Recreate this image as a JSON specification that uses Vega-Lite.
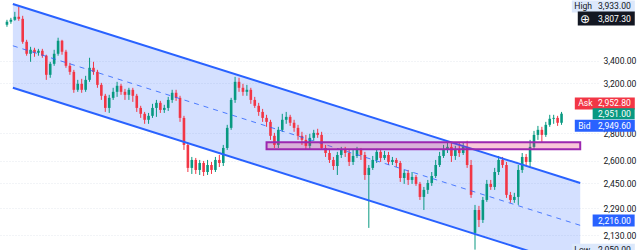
{
  "$schema": "https://vega.github.io/schema/vega-lite/v6.json",
  "width": 598,
  "height": 250,
  "autosize": {"type": "none"},
  "padding": {"left": 0, "top": 0, "right": 42, "bottom": 0},
  "background": "white",
  "config": {"view": {"stroke": null}, "text": {"font": "Roboto"}},
  "datasets": {
    "candles": [
      {"i":0,"o":3745,"h":3795,"l":3725,"c":3775},{"i":1,"o":3775,"h":3815,"l":3755,"c":3795},{"i":2,"o":3795,"h":3877,"l":3785,"c":3826},{"i":3,"o":3826,"h":3933,"l":3785,"c":3805},{"i":4,"o":3805,"h":3836,"l":3559,"c":3578},{"i":5,"o":3578,"h":3597,"l":3447,"c":3465},{"i":6,"o":3465,"h":3530,"l":3391,"c":3502},{"i":7,"o":3502,"h":3521,"l":3437,"c":3474},{"i":8,"o":3474,"h":3511,"l":3447,"c":3493},{"i":9,"o":3493,"h":3511,"l":3428,"c":3447},
      {"i":10,"o":3447,"h":3456,"l":3231,"c":3275},{"i":11,"o":3275,"h":3391,"l":3249,"c":3373},{"i":12,"o":3373,"h":3502,"l":3355,"c":3465},{"i":13,"o":3465,"h":3617,"l":3447,"c":3588},{"i":14,"o":3588,"h":3597,"l":3456,"c":3484},{"i":15,"o":3484,"h":3502,"l":3337,"c":3355},{"i":16,"o":3355,"h":3382,"l":3275,"c":3301},{"i":17,"o":3301,"h":3319,"l":3121,"c":3146},{"i":18,"o":3146,"h":3231,"l":3129,"c":3197},{"i":19,"o":3197,"h":3240,"l":3121,"c":3146},
      {"i":20,"o":3146,"h":3266,"l":3129,"c":3231},{"i":21,"o":3231,"h":3428,"l":3214,"c":3337},{"i":22,"o":3337,"h":3391,"l":3275,"c":3301},{"i":23,"o":3301,"h":3319,"l":3163,"c":3188},{"i":24,"o":3188,"h":3205,"l":3062,"c":3096},{"i":25,"o":3096,"h":3112,"l":2965,"c":2997},{"i":26,"o":2997,"h":3104,"l":2957,"c":3079},{"i":27,"o":3079,"h":3163,"l":3062,"c":3129},{"i":28,"o":3129,"h":3214,"l":3087,"c":3180},{"i":29,"o":3180,"h":3197,"l":3104,"c":3129},
      {"i":30,"o":3129,"h":3154,"l":3062,"c":3104},{"i":31,"o":3104,"h":3163,"l":3062,"c":3146},{"i":32,"o":3146,"h":3163,"l":3046,"c":3096},{"i":33,"o":3096,"h":3112,"l":2965,"c":2997},{"i":34,"o":2997,"h":3014,"l":2918,"c":2950},{"i":35,"o":2950,"h":2965,"l":2872,"c":2903},{"i":36,"o":2903,"h":2957,"l":2872,"c":2934},{"i":37,"o":2934,"h":3030,"l":2918,"c":2997},{"i":38,"o":2997,"h":3062,"l":2926,"c":3038},{"i":39,"o":3038,"h":3054,"l":2957,"c":2981},
      {"i":40,"o":2981,"h":3022,"l":2957,"c":2997},{"i":41,"o":2997,"h":3087,"l":2973,"c":3062},{"i":42,"o":3062,"h":3146,"l":3038,"c":3121},{"i":43,"o":3121,"h":3146,"l":3054,"c":3079},{"i":44,"o":3079,"h":3096,"l":2887,"c":2918},{"i":45,"o":2918,"h":2934,"l":2678,"c":2714},{"i":46,"o":2714,"h":2729,"l":2524,"c":2552},{"i":47,"o":2552,"h":2628,"l":2511,"c":2607},{"i":48,"o":2607,"h":2621,"l":2511,"c":2538},{"i":49,"o":2538,"h":2607,"l":2504,"c":2586},
      {"i":50,"o":2586,"h":2600,"l":2497,"c":2524},{"i":51,"o":2524,"h":2607,"l":2504,"c":2572},{"i":52,"o":2572,"h":2593,"l":2511,"c":2538},{"i":53,"o":2538,"h":2628,"l":2524,"c":2607},{"i":54,"o":2607,"h":2642,"l":2558,"c":2586},{"i":55,"o":2586,"h":2714,"l":2565,"c":2692},{"i":56,"o":2692,"h":2864,"l":2678,"c":2841},{"i":57,"o":2841,"h":3079,"l":2826,"c":3062},{"i":58,"o":3062,"h":3257,"l":3038,"c":3214},{"i":59,"o":3214,"h":3249,"l":3129,"c":3163},
      {"i":60,"o":3163,"h":3197,"l":3096,"c":3129},{"i":61,"o":3129,"h":3188,"l":3096,"c":3146},{"i":62,"o":3146,"h":3163,"l":3030,"c":3062},{"i":63,"o":3062,"h":3087,"l":2997,"c":3014},{"i":64,"o":3014,"h":3038,"l":2934,"c":2965},{"i":65,"o":2965,"h":2989,"l":2887,"c":2918},{"i":66,"o":2918,"h":2942,"l":2849,"c":2887},{"i":67,"o":2887,"h":2903,"l":2751,"c":2781},{"i":68,"o":2781,"h":2803,"l":2692,"c":2714},{"i":69,"o":2714,"h":2849,"l":2692,"c":2826},
      {"i":70,"o":2826,"h":2950,"l":2811,"c":2903},{"i":71,"o":2903,"h":2965,"l":2872,"c":2926},{"i":72,"o":2926,"h":2942,"l":2856,"c":2880},{"i":73,"o":2880,"h":2903,"l":2811,"c":2841},{"i":74,"o":2841,"h":2864,"l":2751,"c":2781},{"i":75,"o":2781,"h":2811,"l":2714,"c":2751},{"i":76,"o":2751,"h":2788,"l":2678,"c":2707},{"i":77,"o":2707,"h":2796,"l":2678,"c":2766},{"i":78,"o":2766,"h":2826,"l":2744,"c":2803},{"i":79,"o":2803,"h":2834,"l":2766,"c":2788},
      {"i":80,"o":2788,"h":2811,"l":2678,"c":2692},{"i":81,"o":2692,"h":2714,"l":2628,"c":2656},{"i":82,"o":2656,"h":2678,"l":2586,"c":2607},{"i":83,"o":2607,"h":2628,"l":2538,"c":2565},{"i":84,"o":2565,"h":2664,"l":2504,"c":2642},{"i":85,"o":2642,"h":2700,"l":2621,"c":2678},{"i":86,"o":2678,"h":2700,"l":2628,"c":2656},{"i":87,"o":2656,"h":2678,"l":2565,"c":2593},{"i":88,"o":2593,"h":2678,"l":2572,"c":2635},{"i":89,"o":2635,"h":2700,"l":2621,"c":2678},
      {"i":90,"o":2678,"h":2692,"l":2607,"c":2642},{"i":91,"o":2642,"h":2664,"l":2471,"c":2504},{"i":92,"o":2504,"h":2572,"l":2173,"c":2552},{"i":93,"o":2552,"h":2635,"l":2538,"c":2607},{"i":94,"o":2607,"h":2685,"l":2586,"c":2664},{"i":95,"o":2664,"h":2685,"l":2593,"c":2621},{"i":96,"o":2621,"h":2671,"l":2607,"c":2642},{"i":97,"o":2642,"h":2664,"l":2572,"c":2593},{"i":98,"o":2593,"h":2628,"l":2572,"c":2607},{"i":99,"o":2607,"h":2621,"l":2558,"c":2586},
      {"i":100,"o":2586,"h":2600,"l":2458,"c":2484},{"i":101,"o":2484,"h":2538,"l":2445,"c":2518},{"i":102,"o":2518,"h":2538,"l":2438,"c":2471},{"i":103,"o":2471,"h":2524,"l":2445,"c":2491},{"i":104,"o":2491,"h":2504,"l":2432,"c":2445},{"i":105,"o":2445,"h":2458,"l":2342,"c":2361},{"i":106,"o":2361,"h":2425,"l":2280,"c":2406},{"i":107,"o":2406,"h":2471,"l":2380,"c":2451},{"i":108,"o":2451,"h":2524,"l":2432,"c":2497},{"i":109,"o":2497,"h":2607,"l":2484,"c":2572},
      {"i":110,"o":2572,"h":2664,"l":2558,"c":2635},{"i":111,"o":2635,"h":2714,"l":2621,"c":2678},{"i":112,"o":2678,"h":2736,"l":2656,"c":2700},{"i":113,"o":2700,"h":2729,"l":2593,"c":2635},{"i":114,"o":2635,"h":2707,"l":2607,"c":2678},{"i":115,"o":2678,"h":2729,"l":2628,"c":2656},{"i":116,"o":2656,"h":2729,"l":2642,"c":2700},{"i":117,"o":2700,"h":2744,"l":2552,"c":2572},{"i":118,"o":2572,"h":2607,"l":2355,"c":2374},{"i":119,"o":2144,"h":2311,"l":2050,"c":2280},
      {"i":120,"o":2280,"h":2305,"l":2178,"c":2220},{"i":121,"o":2220,"h":2361,"l":2202,"c":2342},{"i":122,"o":2342,"h":2471,"l":2330,"c":2445},{"i":123,"o":2445,"h":2471,"l":2406,"c":2425},{"i":124,"o":2425,"h":2552,"l":2406,"c":2524},{"i":125,"o":2524,"h":2635,"l":2504,"c":2607},{"i":126,"o":2607,"h":2628,"l":2552,"c":2572},{"i":127,"o":2572,"h":2593,"l":2355,"c":2374},{"i":128,"o":2374,"h":2393,"l":2324,"c":2342},{"i":129,"o":2342,"h":2387,"l":2324,"c":2361},
      {"i":130,"o":2361,"h":2572,"l":2311,"c":2538},{"i":131,"o":2538,"h":2656,"l":2518,"c":2628},{"i":132,"o":2628,"h":2649,"l":2565,"c":2593},{"i":133,"o":2593,"h":2751,"l":2552,"c":2700},{"i":134,"o":2700,"h":2818,"l":2678,"c":2788},{"i":135,"o":2788,"h":2856,"l":2751,"c":2826},{"i":136,"o":2826,"h":2849,"l":2729,"c":2788},{"i":137,"o":2788,"h":2887,"l":2773,"c":2864},{"i":138,"o":2864,"h":2942,"l":2849,"c":2911},{"i":139,"o":2911,"h":2942,"l":2872,"c":2918},
      {"i":140,"o":2918,"h":2934,"l":2856,"c":2880},{"i":141,"o":2880,"h":2965,"l":2864,"c":2951}
    ],
    "channel": [
      {"i":1.5,"up":3960,"mid":3540,"lo":3163},
      {"i":145.75,"up":2451,"mid":2188,"lo":1955}
    ],
    "zone": [{"i1":66,"i2":145.75,"top":2733,"bot":2683}],
    "tags": [
      {"k":"high","n":"High","p":3933,"t":"3,933.00"},
      {"k":"cross","n":"","p":3807.3,"t":"3,807.30"},
      {"k":"ask","n":"Ask","p":2952.8,"t":"2,952.80"},
      {"k":"last","n":"","p":2951,"t":"2,951.00"},
      {"k":"bid","n":"Bid","p":2949.6,"t":"2,949.60"},
      {"k":"line","n":"","p":2216,"t":"2,216.00"},
      {"k":"low","n":"Low","p":2050,"t":"2,050.00"}
    ]
  },
  "layer": [
    {
      "data": {"name": "channel"},
      "mark": {"type": "area", "color": "#2962ff", "opacity": 0.2, "clip": true},
      "encoding": {
        "x": {"field": "i", "type": "quantitative", "scale": {"domain": [-0.5, 149], "nice": false, "zero": false}, "axis": null},
        "y": {"field": "up", "type": "quantitative", "scale": {"type": "log", "domain": [2048, 4002], "nice": false}},
        "y2": {"field": "lo"}
      }
    },
    {
      "mark": {"type": "rule", "color": "#089981", "strokeDash": [1, 2], "opacity": 0.6, "strokeWidth": 1},
      "encoding": {"y": {"datum": 2951, "type": "quantitative", "scale": {"type": "log", "domain": [2048, 4002], "nice": false}}}
    },
    {
      "mark": {"type": "rule", "color": "#9598a1", "strokeDash": [3, 3], "strokeWidth": 1},
      "encoding": {"y": {"datum": 3807.3, "type": "quantitative", "scale": {"type": "log", "domain": [2048, 4002], "nice": false}}}
    },
    {
      "mark": {"type": "rule", "color": "#9598a1", "strokeDash": [2, 3], "strokeWidth": 1, "opacity": 0.7},
      "encoding": {"x": {"datum": 127.75, "type": "quantitative", "scale": {"domain": [-0.5, 149], "nice": false, "zero": false}, "axis": null}}
    },
    {
      "data": {"name": "candles"},
      "mark": {"type": "rule", "strokeWidth": 1},
      "encoding": {
        "x": {"field": "i", "type": "quantitative", "scale": {"domain": [-0.5, 149], "nice": false, "zero": false}, "axis": null},
        "y": {"field": "l", "type": "quantitative", "scale": {"type": "log", "domain": [2048, 4002], "nice": false},
          "axis": {"orient": "right", "values": [2130, 2290, 2450, 2600, 2800, 3200, 3400], "format": ",.2f", "title": null, "ticks": false, "tickSize": 0, "domain": false, "labelPadding": 5, "labelFontSize": 8.6, "labelFont": "Roboto", "labelColor": "#131722", "labelOverlap": false, "labelFlush": false, "labelBound": false, "grid": true, "gridColor": "#e0e3eb", "gridDash": [1, 2], "gridOpacity": 0.8, "zindex": 0}},
        "y2": {"field": "h"},
        "color": {"condition": {"test": "datum.c >= datum.o", "value": "#089981"}, "value": "#f23645"}
      }
    },
    {
      "data": {"name": "candles"},
      "mark": {"type": "bar", "width": 2.6},
      "encoding": {
        "x": {"field": "i", "type": "quantitative", "scale": {"domain": [-0.5, 149], "nice": false, "zero": false}, "axis": null},
        "y": {"field": "o", "type": "quantitative", "scale": {"type": "log", "domain": [2048, 4002], "nice": false}},
        "y2": {"field": "c"},
        "color": {"condition": {"test": "datum.c >= datum.o", "value": "#089981"}, "value": "#f23645"}
      }
    },
    {
      "data": {"name": "channel"},
      "mark": {"type": "line", "color": "#2962ff", "strokeWidth": 2, "clip": true},
      "encoding": {
        "x": {"field": "i", "type": "quantitative", "scale": {"domain": [-0.5, 149], "nice": false, "zero": false}, "axis": null},
        "y": {"field": "up", "type": "quantitative", "scale": {"type": "log", "domain": [2048, 4002], "nice": false}}
      }
    },
    {
      "data": {"name": "channel"},
      "mark": {"type": "line", "color": "#2962ff", "strokeWidth": 1, "strokeDash": [5, 5], "opacity": 0.8, "clip": true},
      "encoding": {
        "x": {"field": "i", "type": "quantitative", "scale": {"domain": [-0.5, 149], "nice": false, "zero": false}, "axis": null},
        "y": {"field": "mid", "type": "quantitative", "scale": {"type": "log", "domain": [2048, 4002], "nice": false}}
      }
    },
    {
      "data": {"name": "channel"},
      "mark": {"type": "line", "color": "#2962ff", "strokeWidth": 2, "clip": true},
      "encoding": {
        "x": {"field": "i", "type": "quantitative", "scale": {"domain": [-0.5, 149], "nice": false, "zero": false}, "axis": null},
        "y": {"field": "lo", "type": "quantitative", "scale": {"type": "log", "domain": [2048, 4002], "nice": false}}
      }
    },
    {
      "data": {"name": "zone"},
      "mark": {"type": "rect", "fill": "#e91e63", "fillOpacity": 0.25, "stroke": "#9c27b0", "strokeWidth": 2},
      "encoding": {
        "x": {"field": "i1", "type": "quantitative", "scale": {"domain": [-0.5, 149], "nice": false, "zero": false}, "axis": null},
        "x2": {"field": "i2"},
        "y": {"field": "top", "type": "quantitative", "scale": {"type": "log", "domain": [2048, 4002], "nice": false}},
        "y2": {"field": "bot"}
      }
    },
    {
      "mark": {"type": "rule", "color": "#2962ff", "strokeWidth": 2},
      "encoding": {"y": {"datum": 2216, "type": "quantitative", "scale": {"type": "log", "domain": [2048, 4002], "nice": false}}}
    },
    {
      "data": {"name": "tags"},
      "transform": [{"filter": "datum.k == 'high' || datum.k == 'low'"}],
      "mark": {"type": "point", "shape": "M-31.5,-6H31.5V6H-31.5Z", "size": 4, "filled": true, "opacity": 1, "color": "#dce8fb", "strokeWidth": 0},
      "encoding": {
        "x": {"datum": 151.625, "type": "quantitative", "scale": {"domain": [-0.5, 149], "nice": false, "zero": false}, "axis": null},
        "y": {"field": "p", "type": "quantitative", "scale": {"type": "log", "domain": [2048, 4002], "nice": false}}
      }
    },
    {
      "data": {"name": "tags"},
      "transform": [{"filter": "datum.k == 'cross'"}],
      "mark": {"type": "point", "shape": "M-28.5,-7H28.5V7H-28.5Z", "size": 4, "filled": true, "opacity": 1, "color": "#131722", "strokeWidth": 0},
      "encoding": {
        "x": {"datum": 152.375, "type": "quantitative", "scale": {"domain": [-0.5, 149], "nice": false, "zero": false}, "axis": null},
        "y": {"field": "p", "type": "quantitative", "scale": {"type": "log", "domain": [2048, 4002], "nice": false}}
      }
    },
    {
      "data": {"name": "tags"},
      "transform": [{"filter": "datum.k == 'ask'"}],
      "mark": {"type": "point", "shape": "M-30,-6H30V6H-30Z", "size": 4, "filled": true, "opacity": 1, "color": "#f23645", "strokeWidth": 0, "yOffset": -10},
      "encoding": {
        "x": {"datum": 152, "type": "quantitative", "scale": {"domain": [-0.5, 149], "nice": false, "zero": false}, "axis": null},
        "y": {"field": "p", "type": "quantitative", "scale": {"type": "log", "domain": [2048, 4002], "nice": false}}
      }
    },
    {
      "data": {"name": "tags"},
      "transform": [{"filter": "datum.k == 'bid'"}],
      "mark": {"type": "point", "shape": "M-30,-6H30V6H-30Z", "size": 4, "filled": true, "opacity": 1, "color": "#2962ff", "strokeWidth": 0, "yOffset": 12},
      "encoding": {
        "x": {"datum": 152, "type": "quantitative", "scale": {"domain": [-0.5, 149], "nice": false, "zero": false}, "axis": null},
        "y": {"field": "p", "type": "quantitative", "scale": {"type": "log", "domain": [2048, 4002], "nice": false}}
      }
    },
    {
      "data": {"name": "tags"},
      "transform": [{"filter": "datum.k == 'last'"}],
      "mark": {"type": "point", "shape": "M-21,-5.5H21V5.5H-21Z", "size": 4, "filled": true, "opacity": 1, "color": "#089981", "strokeWidth": 0},
      "encoding": {
        "x": {"datum": 154.25, "type": "quantitative", "scale": {"domain": [-0.5, 149], "nice": false, "zero": false}, "axis": null},
        "y": {"field": "p", "type": "quantitative", "scale": {"type": "log", "domain": [2048, 4002], "nice": false}}
      }
    },
    {
      "data": {"name": "tags"},
      "transform": [{"filter": "datum.k == 'line'"}],
      "mark": {"type": "point", "shape": "M-21,-6H21V6H-21Z", "size": 4, "filled": true, "opacity": 1, "color": "#2962ff", "strokeWidth": 0},
      "encoding": {
        "x": {"datum": 154.25, "type": "quantitative", "scale": {"domain": [-0.5, 149], "nice": false, "zero": false}, "axis": null},
        "y": {"field": "p", "type": "quantitative", "scale": {"type": "log", "domain": [2048, 4002], "nice": false}}
      }
    },
    {
      "data": {"name": "tags"},
      "transform": [{"filter": "datum.k == 'high' || datum.k == 'low'"}],
      "mark": {"type": "text", "align": "left", "baseline": "middle", "fontSize": 8.6, "color": "#131722"},
      "encoding": {
        "x": {"datum": 150.25, "type": "quantitative", "scale": {"domain": [-0.5, 149], "nice": false, "zero": false}, "axis": null},
        "y": {"field": "p", "type": "quantitative", "scale": {"type": "log", "domain": [2048, 4002], "nice": false}},
        "text": {"field": "t"}
      }
    },
    {
      "data": {"name": "tags"},
      "transform": [{"filter": "datum.k == 'high' || datum.k == 'low'"}],
      "mark": {"type": "text", "align": "left", "baseline": "middle", "fontSize": 8.6, "color": "#131722"},
      "encoding": {
        "x": {"datum": 144.25, "type": "quantitative", "scale": {"domain": [-0.5, 149], "nice": false, "zero": false}, "axis": null},
        "y": {"field": "p", "type": "quantitative", "scale": {"type": "log", "domain": [2048, 4002], "nice": false}},
        "text": {"field": "n"}
      }
    },
    {
      "data": {"name": "tags"},
      "transform": [{"filter": "datum.k == 'cross' || datum.k == 'last' || datum.k == 'line'"}],
      "mark": {"type": "text", "align": "left", "baseline": "middle", "fontSize": 8.6, "color": "#ffffff"},
      "encoding": {
        "x": {"datum": 150.25, "type": "quantitative", "scale": {"domain": [-0.5, 149], "nice": false, "zero": false}, "axis": null},
        "y": {"field": "p", "type": "quantitative", "scale": {"type": "log", "domain": [2048, 4002], "nice": false}},
        "text": {"field": "t"}
      }
    },
    {
      "data": {"name": "tags"},
      "transform": [{"filter": "datum.k == 'cross'"}],
      "mark": {"type": "text", "align": "center", "baseline": "middle", "fontSize": 12, "color": "#ffffff", "font": "DejaVu Sans"},
      "encoding": {
        "x": {"datum": 147, "type": "quantitative", "scale": {"domain": [-0.5, 149], "nice": false, "zero": false}, "axis": null},
        "y": {"field": "p", "type": "quantitative", "scale": {"type": "log", "domain": [2048, 4002], "nice": false}},
        "text": {"value": "⊕"}
      }
    },
    {
      "data": {"name": "tags"},
      "transform": [{"filter": "datum.k == 'ask'"}],
      "mark": {"type": "text", "align": "left", "baseline": "middle", "fontSize": 8.6, "color": "#ffffff", "yOffset": -10},
      "encoding": {
        "x": {"datum": 150.25, "type": "quantitative", "scale": {"domain": [-0.5, 149], "nice": false, "zero": false}, "axis": null},
        "y": {"field": "p", "type": "quantitative", "scale": {"type": "log", "domain": [2048, 4002], "nice": false}},
        "text": {"field": "t"}
      }
    },
    {
      "data": {"name": "tags"},
      "transform": [{"filter": "datum.k == 'ask'"}],
      "mark": {"type": "text", "align": "left", "baseline": "middle", "fontSize": 8.6, "color": "#ffffff", "yOffset": -10},
      "encoding": {
        "x": {"datum": 145.25, "type": "quantitative", "scale": {"domain": [-0.5, 149], "nice": false, "zero": false}, "axis": null},
        "y": {"field": "p", "type": "quantitative", "scale": {"type": "log", "domain": [2048, 4002], "nice": false}},
        "text": {"field": "n"}
      }
    },
    {
      "data": {"name": "tags"},
      "transform": [{"filter": "datum.k == 'bid'"}],
      "mark": {"type": "text", "align": "left", "baseline": "middle", "fontSize": 8.6, "color": "#ffffff", "yOffset": 12},
      "encoding": {
        "x": {"datum": 150.25, "type": "quantitative", "scale": {"domain": [-0.5, 149], "nice": false, "zero": false}, "axis": null},
        "y": {"field": "p", "type": "quantitative", "scale": {"type": "log", "domain": [2048, 4002], "nice": false}},
        "text": {"field": "t"}
      }
    },
    {
      "data": {"name": "tags"},
      "transform": [{"filter": "datum.k == 'bid'"}],
      "mark": {"type": "text", "align": "left", "baseline": "middle", "fontSize": 8.6, "color": "#ffffff", "yOffset": 12},
      "encoding": {
        "x": {"datum": 145.25, "type": "quantitative", "scale": {"domain": [-0.5, 149], "nice": false, "zero": false}, "axis": null},
        "y": {"field": "p", "type": "quantitative", "scale": {"type": "log", "domain": [2048, 4002], "nice": false}},
        "text": {"field": "n"}
      }
    }
  ]
}
